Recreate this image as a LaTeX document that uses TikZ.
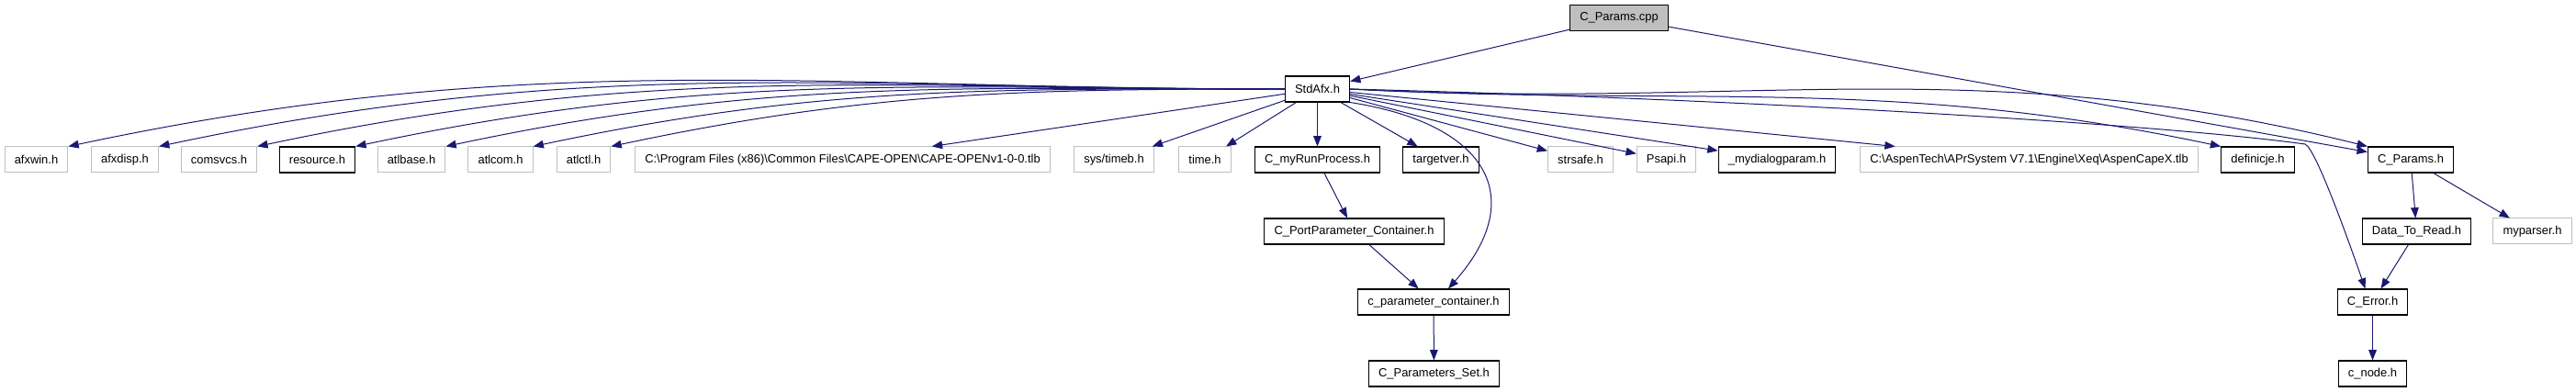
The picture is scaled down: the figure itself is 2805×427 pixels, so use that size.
\documentclass[tikz,border=0pt]{standalone}
\usepackage{fontspec}
\setmainfont{Liberation Sans}
\usetikzlibrary{arrows.meta}
\definecolor{EdgeBlue}{RGB}{25,25,112}
\definecolor{ExtGray}{RGB}{191,191,191}

\begin{document}
\begin{tikzpicture}[
    x=0.75pt, y=0.75pt,
    box/.style={rectangle, draw=black, fill=white, line width=0.8pt,
        minimum height=21pt, inner xsep=8pt, inner ysep=0pt,
        font=\fontsize{9.7}{11}\selectfont},
    ext/.style={box, draw=ExtGray, line width=0.75pt},
    arr/.style={-{Triangle[length=8.5pt, width=6.5pt]}, EdgeBlue, line width=0.75pt},
]
\useasboundingbox (0,0) rectangle (2805,-427);

\node[box, fill=ExtGray] (cpp) at (1763,-19.5) {C\_Params.cpp};
\node[box] (std) at (1434.5,-97) {StdAfx.h};

\node[ext] (afxwin) at (39.5,-174) {afxwin.h};
\node[ext] (afxdisp) at (136,-174) {afxdisp.h};
\node[ext] (comsvcs) at (238.5,-174) {comsvcs.h};
\node[box] (resource) at (345.5,-174) {resource.h};
\node[ext] (atlbase) at (448,-174) {atlbase.h};
\node[ext] (atlcom) at (545,-174) {atlcom.h};
\node[ext] (atlctl) at (635.5,-174) {atlctl.h};
\node[ext] (capeopen) at (917.5,-174) {C:\textbackslash Program Files (x86)\textbackslash Common Files\textbackslash CAPE-OPEN\textbackslash CAPE-OPENv1-0-0.tlb};
\node[ext] (timeb) at (1213,-174) {sys/timeb.h};
\node[ext] (timeh) at (1312,-174) {time.h};
\node[box] (myrun) at (1434.5,-174) {C\_myRunProcess.h};
\node[box] (targetver) at (1569,-174) {targetver.h};
\node[ext] (strsafe) at (1721,-174) {strsafe.h};
\node[ext] (psapi) at (1814.5,-174) {Psapi.h};
\node[box] (mydialog) at (1935,-174) {\_mydialogparam.h};
\node[ext] (aspen) at (2209.5,-174) {C:\textbackslash AspenTech\textbackslash APrSystem V7.1\textbackslash Engine\textbackslash Xeq\textbackslash AspenCapeX.tlb};
\node[box] (definicje) at (2458.5,-174) {definicje.h};
\node[box] (cparamsh) at (2625,-174) {C\_Params.h};

\node[box] (portcont) at (1474.5,-252) {C\_PortParameter\_Container.h};
\node[box] (datatoread) at (2631.5,-252) {Data\_To\_Read.h};
\node[ext] (myparser) at (2757.5,-252) {myparser.h};

\node[box] (paramcont) at (1561,-329) {c\_parameter\_container.h};
\node[box] (cerror) at (2583.5,-329) {C\_Error.h};

\node[box] (paramset) at (1561.5,-407) {C\_Parameters\_Set.h};
\node[box] (cnode) at (2583.5,-407) {c\_node.h};

\draw[arr] (cpp) -- (std);
\draw[arr] (cpp) -- (cparamsh);

\foreach \n in {afxwin, afxdisp, comsvcs, resource, atlbase, atlcom, atlctl}
  \draw[arr] (std.west) to[out=180, in=12] (\n.north east);
\foreach \n in {capeopen, timeb, timeh, myrun, targetver, strsafe, psapi, mydialog, aspen}
  \draw[arr] (std) -- (\n);
\draw[arr] (std.east) to[out=-3, in=168] (definicje.north west);
\draw[arr] (std.east) to[out=-3, in=166] (cparamsh.north west);
\draw[arr] (std.east) .. controls (1900,-108) and (2350,-135) .. (2510,-157)
  .. controls (2522,-162) and (2560,-270) .. ([xshift=-6pt]cerror.north);
\draw[arr] (std.south east) .. controls (1620,-135) and (1665,-215) .. ([xshift=12pt]paramcont.north);

\draw[arr] (myrun) -- (portcont);
\draw[arr] (portcont) -- (paramcont);
\draw[arr] (paramcont) -- (paramset);
\draw[arr] (cparamsh) -- (datatoread);
\draw[arr] (cparamsh) -- (myparser);
\draw[arr] (datatoread) -- (cerror);
\draw[arr] (cerror) -- (cnode);
\end{tikzpicture}
\end{document}
